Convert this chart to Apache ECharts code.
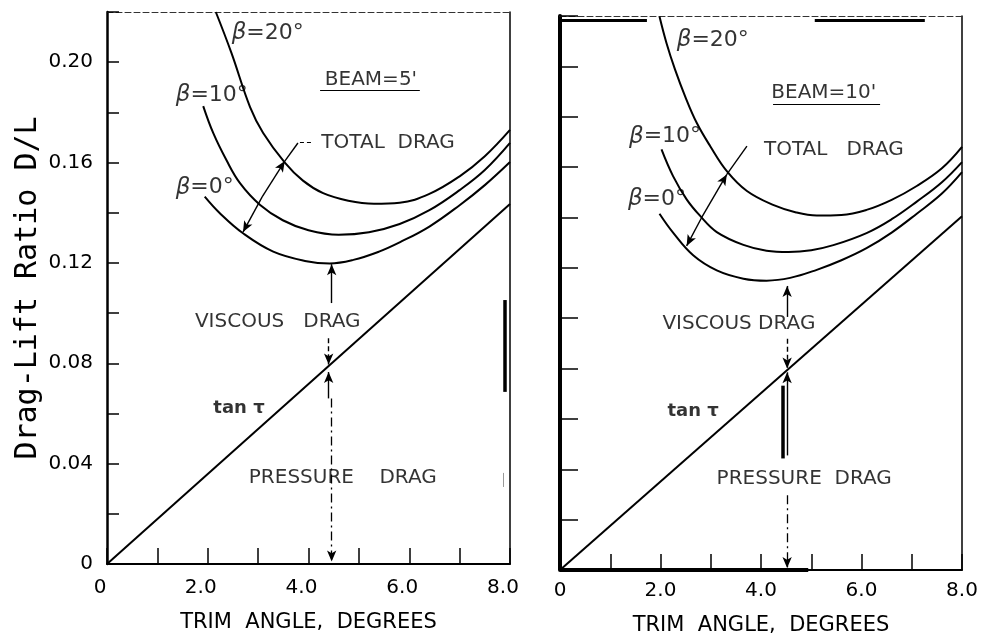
<!DOCTYPE html>
<html>
<head>
<meta charset="utf-8">
<script src="https://cdn.jsdelivr.net/npm/echarts@6/dist/echarts.min.js"></script>
<style>
  html, body { margin: 0; padding: 0; background: #fff; }
  #main { width: 985px; height: 641px; }
</style>
</head>
<body>
<div id="main"></div>
<script>
// Drag-lift ratio of a planing hull against trim angle, for two beams.
// Each curve is [trim angle (deg), D/L].

// Beam = 5 ft
const beam5Beta20 = [[2.16,0.2200],[2.47,0.2037],[2.84,0.1821],[3.10,0.1718],[3.53,0.1600],[3.89,0.1528],[4.29,0.1478],[4.79,0.1448],[5.30,0.1436],[5.81,0.1440],[6.40,0.1475],[7.00,0.1545],[7.50,0.1625],[8.00,0.1730]];
const beam5Beta10 = [[1.91,0.1825],[2.11,0.1717],[2.37,0.1610],[2.64,0.1518],[3.04,0.1431],[3.49,0.1370],[4.00,0.1330],[4.60,0.1312],[5.20,0.1322],[5.81,0.1355],[6.40,0.1410],[7.00,0.1490],[7.50,0.1570],[8.00,0.1678]];
const beam5Beta0  = [[1.94,0.1464],[2.24,0.1398],[2.70,0.1318],[3.30,0.1245],[3.96,0.1207],[4.42,0.1198],[4.89,0.1212],[5.40,0.1245],[5.81,0.1282],[6.40,0.1345],[7.00,0.1430],[7.50,0.1510],[8.00,0.1602]];
const beam5Tan    = [[0,0],[8.00,0.1435]];

// Beam = 10 ft
const beam10Beta20 = [[1.98,0.2198],[2.12,0.2092],[2.29,0.1987],[2.49,0.1881],[2.72,0.1776],[2.99,0.1683],[3.32,0.1584],[3.72,0.1505],[4.24,0.1450],[4.70,0.1420],[5.11,0.1408],[5.60,0.1410],[6.10,0.1430],[6.60,0.1470],[7.10,0.1525],[7.60,0.1595],[8.00,0.1680]];
const beam10Beta10 = [[2.02,0.1670],[2.25,0.1564],[2.52,0.1472],[2.79,0.1406],[3.12,0.1342],[3.65,0.1291],[4.11,0.1268],[4.55,0.1263],[5.00,0.1270],[5.44,0.1290],[6.10,0.1338],[6.60,0.1393],[7.10,0.1463],[7.60,0.1540],[8.00,0.1620]];
const beam10Beta0  = [[1.98,0.1415],[2.25,0.1340],[2.65,0.1250],[3.12,0.1190],[3.65,0.1157],[4.11,0.1149],[4.58,0.1160],[5.11,0.1192],[5.60,0.1230],[6.10,0.1278],[6.60,0.1340],[7.10,0.1415],[7.60,0.1495],[8.00,0.1580]];
const beam10Tan    = [[0,0],[8.00,0.1405]];

// Tick labels
const xTickValues = [0, 2, 4, 6, 8];
const xTickLabels = ['0', '2.0', '4.0', '6.0', '8.0'];
const yTickValues = [0, 0.04, 0.08, 0.12, 0.16, 0.20];
const yTickLabels = ['0', '0.04', '0.08', '0.12', '0.16', '0.20'];

// Notes placed in data coordinates: [text, trim angle, D/L]
const notes5 = [
  ['{b|β}{n|=20°}', 3.19, 0.2116],
  ['{b|β}{n|=10°}', 2.08, 0.1870],
  ['{b|β}{n|=0°}', 1.94, 0.1500],
  ["BEAM=5'", 5.24, 0.1930],
  ['TOTAL  DRAG', 5.58, 0.1680],
  ['VISCOUS   DRAG', 3.39, 0.0965],
  ['{t|tan τ}', 2.62, 0.0622],
  ['PRESSURE    DRAG', 4.68, 0.0343]
];
const notes10 = [
  ['{b|β}{n|=20°}', 3.04, 0.2105],
  ["BEAM=10'", 5.25, 0.1896],
  ['{b|β}{n|=10°}', 2.09, 0.1721],
  ['TOTAL   DRAG', 5.45, 0.1670],
  ['{b|β}{n|=0°}', 1.93, 0.1472],
  ['VISCOUS DRAG', 3.56, 0.0977],
  ['{t|tan τ}', 2.65, 0.0629],
  ['PRESSURE  DRAG', 4.86, 0.0364]
];

// Leader lines and arrows: [from, to, kind]
const arrows5 = [
  [[3.83,0.1682],[4.09,0.1682],'dash'],
  [[3.79,0.1678],[3.53,0.1606],'plain'],
  [[3.08,0.1463],[3.53,0.1606],'arrow'],
  [[3.08,0.1463],[2.70,0.1323],'arrow'],
  [[4.46,0.1040],[4.46,0.1195],'arrow'],
  [[4.40,0.0900],[4.40,0.0795],'dasharrow'],
  [[4.40,0.0660],[4.40,0.0765],'arrow'],
  [[4.46,0.0660],[4.46,0.0010],'dashdot'],
  [[4.23,0.1890],[6.21,0.1890],'thin'],
  [[7.90,0.1052],[7.90,0.0686],'bar'],
  [[7.86,0.0363],[7.86,0.0307],'faint']
];
const arrows10 = [
  [[3.72,0.1683],[3.32,0.1571],'plain'],
  [[2.82,0.1400],[3.32,0.1571],'arrow'],
  [[2.82,0.1400],[2.52,0.1287],'arrow'],
  [[4.52,0.1005],[4.52,0.1128],'arrow'],
  [[4.52,0.0918],[4.52,0.0800],'dasharrow'],
  [[4.52,0.0455],[4.52,0.0785],'arrow'],
  [[4.52,0.0297],[4.52,0.0008],'dashdot'],
  [[4.24,0.1848],[6.37,0.1848],'thin'],
  [[4.44,0.0732],[4.44,0.0443],'bar'],
  [[0.04,0.2184],[1.73,0.2184],'rule'],
  [[5.07,0.2184],[7.26,0.2184],'rule'],
  [[0.00,0.0000],[4.94,0.0000],'rule4']
];

const FONT = 'DejaVu Sans';
const INK = '#000';

function segStyle(kind) {
  switch (kind) {
    case 'dash':      return { lineStyle: { type: [4, 3], width: 1.2 }, arrow: false };
    case 'plain':     return { lineStyle: { type: 'solid', width: 1.4 }, arrow: false };
    case 'arrow':     return { lineStyle: { type: 'solid', width: 1.4 }, arrow: true };
    case 'dasharrow': return { lineStyle: { type: [5, 3], width: 1.4 }, arrow: true };
    case 'dashdot':   return { lineStyle: { type: [9, 4, 2, 4], width: 1.3 }, arrow: true };
    case 'thin':      return { lineStyle: { type: 'solid', width: 1 }, arrow: false };
    case 'bar':       return { lineStyle: { type: 'solid', width: 3.5 }, arrow: false };
    case 'faint':     return { lineStyle: { type: 'solid', width: 1, color: '#999' }, arrow: false };
    case 'rule':      return { lineStyle: { type: 'solid', width: 3 }, arrow: false };
    case 'rule4':     return { lineStyle: { type: 'solid', width: 4 }, arrow: false };
  }
}

function markLines(list) {
  return list.map(([a, b, kind]) => {
    const s = segStyle(kind);
    return [
      { coord: a, symbol: 'none', lineStyle: Object.assign({ color: '#000' }, s.lineStyle) },
      { coord: b, symbol: s.arrow ? 'arrow' : 'none', symbolSize: [7, 11] }
    ];
  });
}

function curve(name, data, gi) {
  return {
    name, type: 'line', data, xAxisIndex: gi, yAxisIndex: gi,
    smooth: 0.4, showSymbol: false, symbol: 'none', silent: true,
    lineStyle: { color: '#000', width: 2 }
  };
}

function notesSeries(list, gi) {
  return {
    type: 'scatter', xAxisIndex: gi, yAxisIndex: gi, symbolSize: 0, silent: true,
    data: list.map(([t, x, y]) => ({ value: [x, y], label: { formatter: t } })),
    label: {
      show: true, position: 'inside', color: INK, fontFamily: FONT, fontSize: 20,
      rich: {
        b: { fontStyle: 'italic', fontFamily: FONT, fontSize: 23, color: INK },
        n: { fontFamily: FONT, fontSize: 22, color: INK },
        t: { fontWeight: 'bold', fontFamily: FONT, fontSize: 18, color: INK }
      }
    }
  };
}

function arrowSeries(list, gi) {
  return {
    type: 'line', data: [], xAxisIndex: gi, yAxisIndex: gi, silent: true,
    markLine: {
      silent: true, animation: false, symbol: ['none', 'arrow'], symbolSize: [7, 11],
      label: { show: false }, emphasis: { disabled: true },
      data: markLines(list)
    }
  };
}

function xLabel(v) {
  const i = xTickValues.indexOf(Math.round(v * 1000) / 1000);
  return i >= 0 ? xTickLabels[i] : '';
}
function yLabel(v) {
  const i = yTickValues.findIndex(t => Math.abs(t - v) < 1e-6);
  return i >= 0 ? yTickLabels[i] : '';
}

function bottomAxis(gi, opts) {
  return {
    gridIndex: gi, type: 'value', min: 0, max: 8, interval: 1,
    axisLine: { onZero: false, lineStyle: { color: '#000', width: 2 } },
    axisTick: { inside: true, length: 16, lineStyle: { color: '#000', width: 1.5 } },
    axisLabel: Object.assign({ formatter: xLabel, color: INK, fontFamily: FONT, fontSize: 20 }, opts.label),
    splitLine: { show: false },
    name: 'TRIM  ANGLE,  DEGREES', nameLocation: 'middle', nameGap: opts.nameGap,
    nameTextStyle: { color: INK, fontFamily: FONT, fontSize: 21 }
  };
}
function topFrame(gi) {
  return {
    gridIndex: gi, type: 'value', min: 0, max: 8, position: 'top',
    axisLine: { onZero: false, lineStyle: { color: '#333', width: 1, type: [6, 3] } },
    axisTick: { show: false }, axisLabel: { show: false }, splitLine: { show: false }
  };
}
function rightFrame(gi) {
  return {
    gridIndex: gi, type: 'value', min: 0, max: 0.22, position: 'right',
    axisLine: { show: true, onZero: false, lineStyle: { color: '#000', width: 1.5 } },
    axisTick: { show: false }, axisLabel: { show: false }, splitLine: { show: false }
  };
}

const chart = echarts.init(document.getElementById('main'), null, { renderer: 'canvas' });

chart.setOption({
  animation: false,
  backgroundColor: '#fff',
  grid: [
    { left: 107, top: 12, width: 403, height: 552 },
    { left: 560, top: 16, width: 402, height: 556 }
  ],
  xAxis: [
    bottomAxis(0, { label: { margin: 14, padding: [0, 14, 0, 0] }, nameGap: 48 }),
    bottomAxis(1, { label: { margin: 11 }, nameGap: 45 }),
    topFrame(0),
    topFrame(1)
  ],
  yAxis: [
    {
      gridIndex: 0, type: 'value', min: 0, max: 0.22, interval: 0.02,
      axisLine: { onZero: false, lineStyle: { color: '#000', width: 2.5 } },
      axisTick: { inside: true, length: 12, lineStyle: { color: '#000', width: 1.5 } },
      axisLabel: { formatter: yLabel, color: INK, fontFamily: FONT, fontSize: 20, margin: 14 },
      splitLine: { show: false },
      name: 'Drag-Lift Ratio D/L', nameLocation: 'middle', nameRotate: 90, nameGap: 64,
      nameTextStyle: { color: INK, fontFamily: 'DejaVu Sans Mono', fontSize: 30 }
    },
    {
      gridIndex: 1, type: 'value', min: 0, max: 0.22, interval: 0.02,
      axisLine: { onZero: false, lineStyle: { color: '#000', width: 4 } },
      axisTick: { inside: true, length: 18, lineStyle: { color: '#000', width: 1.5 } },
      axisLabel: { show: false }, splitLine: { show: false }
    },
    rightFrame(0),
    rightFrame(1)
  ],
  series: [
    curve('β=20°, beam 5', beam5Beta20, 0),
    curve('β=10°, beam 5', beam5Beta10, 0),
    curve('β=0°, beam 5', beam5Beta0, 0),
    curve('tan τ, beam 5', beam5Tan, 0),
    curve('β=20°, beam 10', beam10Beta20, 1),
    curve('β=10°, beam 10', beam10Beta10, 1),
    curve('β=0°, beam 10', beam10Beta0, 1),
    curve('tan τ, beam 10', beam10Tan, 1),
    arrowSeries(arrows5, 0),
    arrowSeries(arrows10, 1),
    notesSeries(notes5, 0),
    notesSeries(notes10, 1)
  ]
});
</script>
</body>
</html>
